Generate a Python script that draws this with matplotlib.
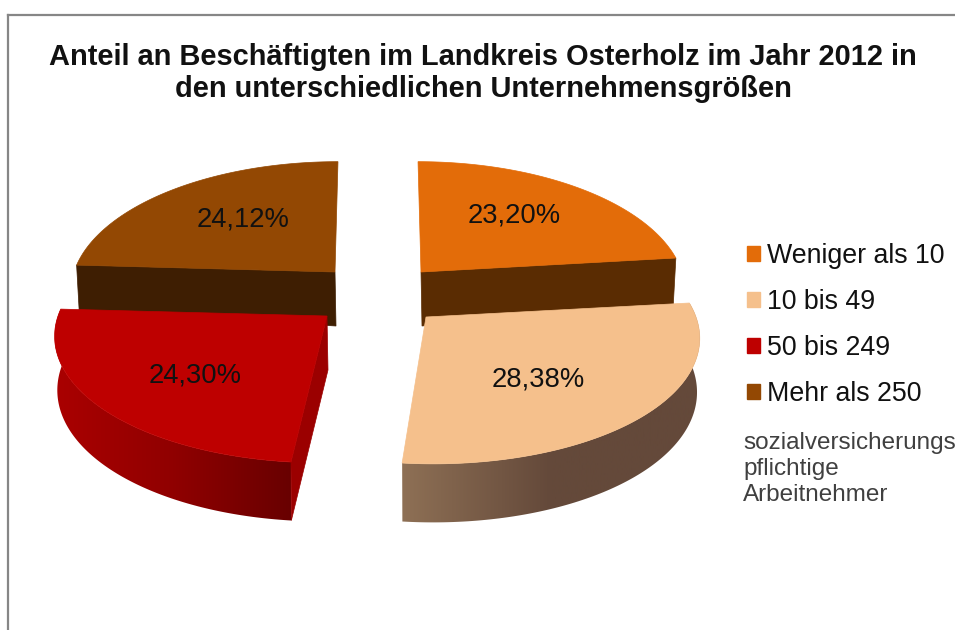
import numpy as np
import matplotlib
matplotlib.use("Agg")
import matplotlib.pyplot as plt
from matplotlib.patches import Polygon, Patch
from matplotlib.colors import LinearSegmentedColormap
from matplotlib.transforms import IdentityTransform

plt.rcParams['font.family'] = ['Liberation Sans', 'DejaVu Sans']

# ---- data ----
categories = ["Weniger als 10", "10 bis 49", "50 bis 249", "Mehr als 250"]
shares = [23.20, 28.38, 24.30, 24.12]
pct_labels = ["23,20%", "28,38%", "24,30%", "24,12%"]
title_lines = "Anteil an Beschäftigten im Landkreis Osterholz im Jahr 2012 in\nden unterschiedlichen Unternehmensgrößen"
note = "sozialversicherungs\npflichtige\nArbeitnehmer"

# ---- style / layout ----
top_cols = ["#E36C09", "#F5C08C", "#BE0000", "#934803"]
face_cols = ["#5A2C02", None, "#9B0000", "#3E1E02"]
side_stops = [None, ["#8E7055", "#64493A", "#64493A"], ["#AA0000", "#900000", "#680000"], None]
centers = [(421, 272), (426, 317), (327, 316), (335, 272)]
radii_x = [261, 270, 269, 261]
shears = [0.027, 0.05, -0.034, -0.027]
face_end = [1, None, 0, 0]      # which cut edge shows a face
label_xy = [(514, 215), (538, 380), (195, 375), (243, 219)]
depth_base = [46, 53, 53, 46]
depth_slope = [0, -7, -7, 0]
RY, K = 126, 0.142
APEX_DEPTH = 54
SHRINK = 0.99

fig = plt.figure(figsize=(9.55, 6.3), dpi=100, facecolor="white")
ax = fig.add_axes([8 / 955, 0, 947 / 955, 615 / 630])
ax.set_xticks([]); ax.set_yticks([])
for s in ("right", "bottom"):
    ax.spines[s].set_visible(False)
for s in ("left", "top"):
    ax.spines[s].set_color("#868686"); ax.spines[s].set_linewidth(1.6)


def rim(i, theta):
    """top and bottom outline of slice i at clockwise angle theta from 12 o'clock"""
    cx, cy = centers[i]
    u, v = np.sin(theta), np.cos(theta)
    w = 1 + K * v
    dy = -RY * v / w
    dx = radii_x[i] * u / w + shears[i] * dy
    top = np.column_stack([cx + dx, cy + dy])
    depth = depth_base[i] + depth_slope[i] * v
    bot = np.column_stack([cx + SHRINK * dx, cy + SHRINK * dy + depth])
    return top, bot


edges = np.concatenate([[0], np.cumsum(shares)]) / sum(shares) * 2 * np.pi
order = [3, 0, 2, 1]  # back to front
for i in order:
    th = np.linspace(edges[i], edges[i + 1], 120)
    top, bot = rim(i, th)
    cx, cy = centers[i]
    apex = np.array([cx, cy])
    apex_bot = np.array([cx + 1, cy + APEX_DEPTH])
    # outer wall with horizontal gradient
    if side_stops[i]:
        poly = Polygon(np.vstack([top, bot[::-1]]), closed=True, fc="none", ec="none")
        ax.add_patch(poly)
        cmap = LinearSegmentedColormap.from_list("g", side_stops[i])
        xs = np.concatenate([top[:, 0], bot[:, 0]])
        x0, x1 = xs.min(), xs.max()
        g = np.linspace(0, 1, 256)[None, :]
        im = ax.imshow(g, cmap=cmap, extent=[x0, x1, 630, 15], aspect="auto", zorder=1 + order.index(i))
        im.set_clip_path(poly)
        poly.set_zorder(1 + order.index(i))
    # cut face
    if face_end[i] is not None:
        a = th[-1] if face_end[i] else th[0]
        t, b = rim(i, np.array([a]))
        ax.add_patch(Polygon(np.vstack([apex, t, b, apex_bot]), closed=True, fc=face_cols[i],
                             ec=face_cols[i], lw=0.5, zorder=1.2 + order.index(i)))
    # top surface
    ax.add_patch(Polygon(np.vstack([apex, top]), closed=True, fc=top_cols[i], ec=top_cols[i],
                         lw=0.5, zorder=1.4 + order.index(i)))
    ax.text(*label_xy[i], pct_labels[i], ha="center", va="center", fontsize=19.7,
            color="#111111", zorder=10)

ax.set_xlim(8, 955)
ax.set_ylim(630, 15)

ax.text(483, 73, title_lines, ha="center", va="center", fontsize=20.9, fontweight="bold",
        color="#111111", linespacing=1.18, zorder=10)

handles = [Patch(fc=c, ec=c) for c in top_cols]
ax.legend(handles, categories, loc="upper left", bbox_to_anchor=(747, 630 - 243),
          bbox_transform=IdentityTransform(),
          frameon=False, fontsize=19.3, handlelength=0.48, handleheight=0.48, handletextpad=0.28,
          labelspacing=0.745, borderpad=0, borderaxespad=0, labelcolor="#111111")

ax.text(743, 469, note, ha="left", va="center", fontsize=17.5, color="#404040", linespacing=1.24, zorder=10)

fig.savefig("out.png", dpi=100)
